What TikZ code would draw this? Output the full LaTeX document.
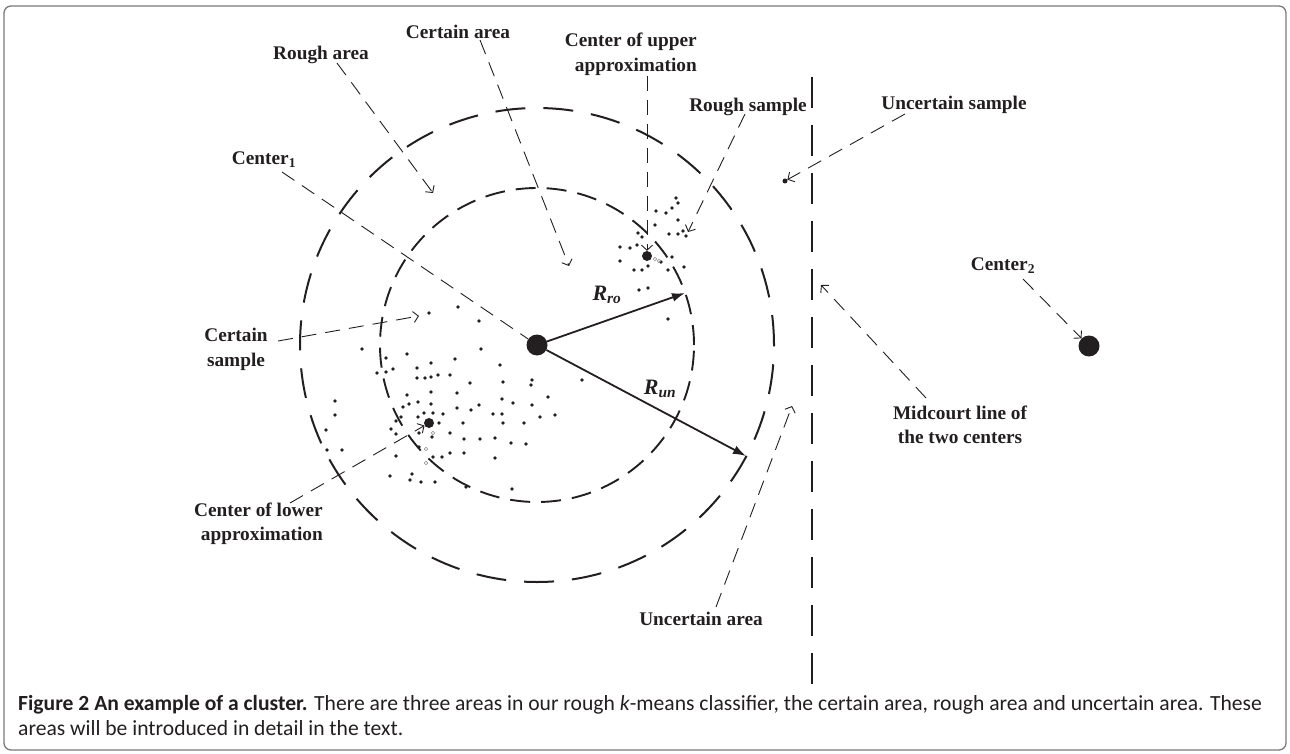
\documentclass[tikz,border=0pt]{standalone}
\usepackage{fontspec}
\setmainfont{Liberation Serif}
\newfontfamily\capfont{Carlito}
\usetikzlibrary{arrows.meta}
\definecolor{ink}{HTML}{231F20}
\definecolor{framegray}{HTML}{7A7A7A}
\definecolor{hollow}{HTML}{8A8A8A}
\begin{document}
\begin{tikzpicture}[x=1pt,y=-1pt,
  lbl/.style={font=\fontsize{19.3}{24.5}\selectfont\bfseries, text=ink, inner sep=0pt},
  rlbl/.style={font=\fontsize{22}{24}\selectfont\bfseries\itshape, text=ink, inner sep=0pt},
  leader/.style={draw=ink, line width=0.9pt, dash pattern=on 15pt off 9pt, -{Straight Barb[length=5pt,width=11pt]}},
  plainleader/.style={draw=ink, line width=0.9pt, dash pattern=on 15pt off 9pt},
  bigdot/.style={circle, fill=ink, inner sep=0pt, minimum size=21pt},
  meddot/.style={circle, fill=ink, inner sep=0pt, minimum size=10pt},
  smalldot/.style={circle, fill=ink, inner sep=0pt, minimum size=5pt},
  outer/.style={draw=ink, line width=2pt, dash pattern=on 30pt off 18pt},
  inner/.style={draw=ink, line width=1.9pt, dash pattern=on 20pt off 11pt},
  radius/.style={draw=ink, line width=1.8pt, -{Latex[length=13pt,width=9pt]}},
  capt/.style={font=\capfont\fontsize{21.6}{25}\selectfont, text=ink, inner sep=0pt}
]
\useasboundingbox (0,0) rectangle (1290,754);
\draw[framegray, line width=1.3pt, rounded corners=7pt] (4,6) rectangle (1286,750);

% circles
\coordinate (c1c) at (537,345);
\draw[outer] (c1c) circle (237pt);
\draw[inner] (c1c) circle (157pt);

% midcourt line
\coordinate (midtop) at (812,77);
\coordinate (midbot) at (812,684);
\draw[draw=ink, line width=2pt, dash pattern=on 31pt off 17pt] (midtop) -- (midbot);

% sample dots
\foreach \p in {(429,313),(458,307),(479,321),(362,349),(407,354),(481,349),(386,358),(431,363),(455,359),(500,365),
(377,373),(386,372),(393,369),(417,368),(417,378),(425,378),(431,377),(438,375),(450,375),(470,383),
(503,382),(531,385),(532,380),(582,380),(407,395),(431,392),(457,393),(502,399),(548,397),(335,401),
(403,407),(409,404),(418,402),(431,404),(457,408),(471,410),(479,405),(513,403),(532,405),(493,414),
(502,414),(335,415),(424,413),(433,413),(443,414),(540,417),(555,415),(396,421),(401,417),(418,417),
(439,423),(463,423),(503,423),(524,423),(326,430),(391,429),(396,434),(419,433),(432,437),(450,433),
(464,439),(480,439),(495,438),(511,443),(526,444),(327,450),(342,450),(419,447),(433,457),(442,457),
(450,453),(464,453),(396,456),(495,458),(390,476),(412,474),(410,480),(421,482),(435,482),(466,487),(512,489),
(676,198),(678,203),(656,211),(666,213),(672,208),(678,220),(655,225),(669,234),(678,234),(683,231),
(686,236),(638,233),(642,237),(620,247),(630,248),(637,245),(620,261),(634,270),(642,270),(648,266),
(661,262),(672,257),(668,270),(684,267),(639,290),(648,288),(668,319)}
  \fill[ink] \p circle (1.8pt);
\foreach \p in {(433,433),(426,449),(426,463),(655,259),(659,261)}
  \draw[hollow, line width=0.6pt] \p circle (1.8pt);

% centers
\node[bigdot] (c1) at (c1c) {};
\node[bigdot] (c2) at (1089,346) {};
\node[meddot] (lowc) at (429,423) {};
\node[meddot] (upc) at (647,256) {};
\node[smalldot] (us) at (785,181) {};

% radii
\coordinate (rro) at (685,293);
\coordinate (run) at (746,456);
\draw[radius] (c1) -- (rro);
\draw[radius] (c1) -- (run);
\node[rlbl] (rrolab) at (607,295) {R\textsubscript{ro}};
\node[rlbl] (runlab) at (660,389) {R\textsubscript{un}};

% labels
\node[lbl] (roughA) at (321,55) {Rough area};
\node[lbl] (certA) at (458,32) {Certain area};
\node[lbl, align=right, anchor=east] (upClab) at (697,54.5) {Center of upper\\approximation};
\node[lbl] (roughS) at (748,107) {Rough sample};
\node[lbl] (uncS) at (954,105) {Uncertain sample};
\node[lbl] (c1lab) at (264,160) {Center\textsubscript{1}};
\node[lbl, align=center] (certS) at (236,349.5) {Certain\\sample};
\node[lbl, align=right, anchor=east] (lowClab) at (323,524) {Center of lower\\approximation};
\node[lbl, align=center] (midlab) at (960,425) {Midcourt line of\\the two centers};
\node[lbl] (uncA) at (701,619) {Uncertain area};
\node[lbl] (c2lab) at (1003,266) {Center\textsubscript{2}};

% leader coordinates
\coordinate (raS) at (337,63);   \coordinate (raT) at (433,193);
\coordinate (caS) at (480,40);   \coordinate (caT) at (569,266);
\coordinate (ucS) at (647,76);
\coordinate (rsS) at (745,114);  \coordinate (rsT) at (688,232);
\coordinate (usS) at (905,114);
\coordinate (c1S) at (282,172);
\coordinate (csS) at (278,341);  \coordinate (csT) at (419,316);
\coordinate (lcS) at (290,503);
\coordinate (uaS) at (716,607);  \coordinate (uaT) at (792,406);
\coordinate (mlS) at (926,398);  \coordinate (mlT) at (821,285);
\coordinate (c2S) at (1023,279);

\draw[leader] (raS) -- (raT);
\draw[leader] (caS) -- (caT);
\draw[leader] (ucS) -- (upc);
\draw[leader] (rsS) -- (rsT);
\draw[leader] (usS) -- (us);
\draw[plainleader] (c1S) -- (c1);
\draw[leader] (csS) -- (csT);
\draw[leader] (lcS) -- (lowc);
\draw[leader] (uaS) -- (uaT);
\draw[leader] (mlS) -- (mlT);
\draw[leader] (c2S) -- (c2);

% caption
\node[capt, anchor=base west] (cap1) at (18,710) {\textbf{Figure 2 An example of a cluster.} There are three areas in our rough \textit{k}-means classifier, the certain area, rough area and uncertain area. These};
\node[capt, anchor=base west] (cap2) at (18,735) {areas will be introduced in detail in the text.};
\end{tikzpicture}
\end{document}
